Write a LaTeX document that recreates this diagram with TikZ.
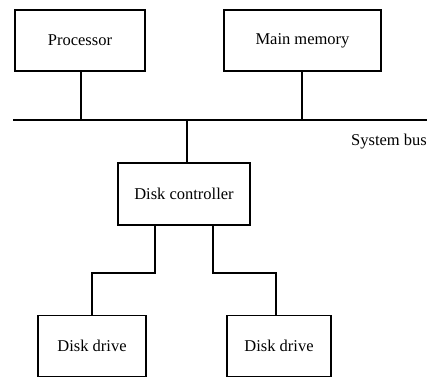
\documentclass[tikz,border=0pt]{standalone}
\usepackage{fontspec}
\setmainfont{Liberation Serif}
\begin{document}
\begin{tikzpicture}[x=1pt,y=-1pt,
  unit/.style={draw, line width=1.4pt, inner sep=0pt, font=\fontsize{16.5}{18}\selectfont},
  wire/.style={line width=1.2pt}]
\useasboundingbox (0,0) rectangle (427,379);
\node[unit, minimum width=130pt, minimum height=61pt] (proc) at (80,40.5) {Processor};
\node[unit, minimum width=157pt, minimum height=61pt] (mem) at (302.5,40.5) {Main memory};
\node[unit, minimum width=132pt, minimum height=62pt] (ctrl) at (184,194) {Disk controller};
\node[unit, minimum width=108pt, minimum height=61pt] (d1) at (92,346) {Disk drive};
\node[unit, minimum width=104pt, minimum height=61pt] (d2) at (279,346) {Disk drive};
\coordinate (busL) at (13,120);
\coordinate (busR) at (427,120);
\node[anchor=east, inner sep=0pt, font=\fontsize{16.5}{18}\selectfont] (buslabel) at (427,142) {System bus};
\draw[wire] (busL) -- (busR);
\draw[wire] ([xshift=1pt]proc.south) -- ([xshift=1pt]proc.south |- busL);
\draw[wire] ([xshift=-0.5pt]mem.south) -- ([xshift=-0.5pt]mem.south |- busL);
\draw[wire] ([xshift=3pt]ctrl.north) -- ([xshift=3pt]ctrl.north |- busL);
\draw[wire] ([xshift=-29pt]ctrl.south) |- (92,273) -- (d1.north);
\draw[wire] ([xshift=29pt]ctrl.south) |- ([xshift=-3pt]d2.north |- 0,273) -- ([xshift=-3pt]d2.north);
\end{tikzpicture}
\end{document}
